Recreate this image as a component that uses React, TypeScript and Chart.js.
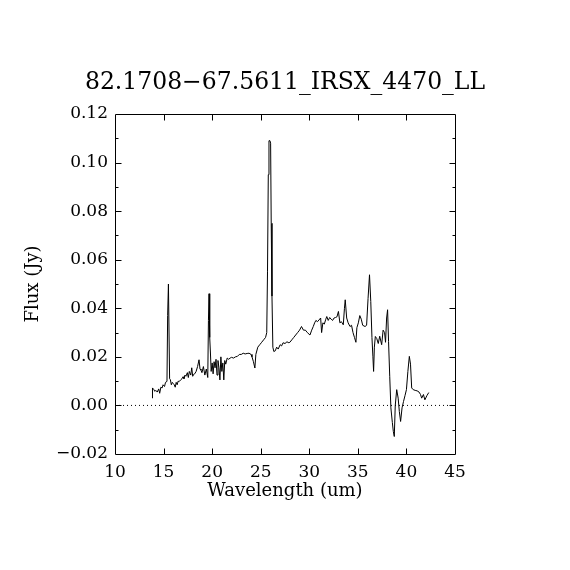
import React, { useEffect, useRef } from "react";
import { Chart, registerables } from "chart.js";

Chart.register(...registerables);

const TITLE = "82.1708\u221267.5611_IRSX_4470_LL";
const X_LABEL = "Wavelength (um)";
const Y_LABEL = "Flux (Jy)";
const X_MIN = 10;
const X_MAX = 45;
const Y_MIN = -0.02;
const Y_MAX = 0.12;
const X_TICKS = [10, 15, 20, 25, 30, 35, 40, 45];
const Y_TICKS = [-0.02, 0, 0.02, 0.04, 0.06, 0.08, 0.1, 0.12];
const Y_MINOR_TICKS = [-0.01, 0.01, 0.03, 0.05, 0.07, 0.09, 0.11];

const WAVELENGTH = [
  13.84, 13.86, 14.0, 14.1, 14.2, 14.35, 14.5, 14.6, 14.72, 14.85, 14.95, 15.1, 15.2, 15.35,
  15.42, 15.5, 15.62, 15.7, 15.8, 15.9, 16.0, 16.1, 16.2, 16.3, 16.4, 16.5, 16.6, 16.75, 16.9,
  17.0, 17.1, 17.2, 17.3, 17.45, 17.55, 17.65, 17.8, 17.9, 18.0, 18.1, 18.2, 18.35, 18.5, 18.65,
  18.75, 18.85, 18.95, 19.1, 19.25, 19.4, 19.55, 19.62, 19.68, 19.75, 19.82, 19.9, 20.0, 20.1,
  20.2, 20.3, 20.4, 20.5, 20.6, 20.7, 20.8, 20.9, 21.0, 21.1, 21.2, 21.3, 21.4, 21.55, 21.7,
  21.85, 22.0, 22.2, 22.4, 22.6, 22.8, 23.0, 23.2, 23.4, 23.6, 23.8, 24.0, 24.1, 24.25, 24.4,
  24.5, 24.7, 24.9, 25.1, 25.3, 25.5, 25.62, 25.7, 25.78, 25.85, 25.95, 26.02, 26.08, 26.16,
  26.25, 26.35, 26.5, 26.64, 26.8, 27.0, 27.15, 27.3, 27.5, 27.7, 27.9, 28.0, 28.2, 28.4, 28.6,
  28.8, 29.0, 29.2, 29.4, 29.6, 29.8, 30.07, 30.25, 30.41, 30.55, 30.68, 30.85, 31.0, 31.17,
  31.27, 31.4, 31.55, 31.7, 31.8, 31.95, 32.1, 32.25, 32.4, 32.55, 32.7, 32.85, 33.0, 33.15,
  33.3, 33.5, 33.62, 33.7, 33.85, 34.0, 34.19, 34.35, 34.5, 34.65, 34.8, 34.9, 35.05, 35.2,
  35.35, 35.5, 35.74, 35.9, 36.05, 36.2, 36.33, 36.45, 36.55, 36.62, 36.7, 36.8, 36.95, 37.1,
  37.25, 37.45, 37.6, 37.75, 37.85, 37.96, 38.06, 38.16, 38.28, 38.4, 38.55, 38.65, 38.75,
  38.85, 39.0, 39.15, 39.27, 39.4, 39.55, 39.7, 39.85, 40.0, 40.15, 40.3, 40.42, 40.54, 40.7,
  40.9, 41.1, 41.3, 41.45, 41.57, 41.75, 41.9, 42.1, 42.3,
];

const FLUX = [
  0.003, 0.0072, 0.0065, 0.0058, 0.0062, 0.0055, 0.0068, 0.005, 0.0075, 0.0072, 0.0085, 0.0078, 0.0095, 0.0099,
  0.037, 0.05, 0.011, 0.0106, 0.0085, 0.0095, 0.009, 0.0085, 0.0075, 0.0095, 0.0085, 0.01, 0.0098, 0.0105, 0.011,
  0.0118, 0.011, 0.0125, 0.012, 0.0135, 0.0115, 0.014, 0.0125, 0.0155, 0.012, 0.0128, 0.013, 0.014, 0.016, 0.0188,
  0.015, 0.0145, 0.0135, 0.016, 0.0125, 0.015, 0.0115, 0.035, 0.046, 0.028, 0.022, 0.014, 0.0175, 0.013,
  0.018, 0.0155, 0.019, 0.0125, 0.0185, 0.0155, 0.0105, 0.02, 0.014, 0.0175, 0.0105, 0.0185, 0.017, 0.0195, 0.019,
  0.0195, 0.0198, 0.0195, 0.02, 0.0202, 0.021, 0.021, 0.0215, 0.0212, 0.0214, 0.0215, 0.021, 0.02, 0.018, 0.0154,
  0.021, 0.024, 0.025, 0.026, 0.027, 0.028, 0.03, 0.055, 0.095, 0.109, 0.109, 0.108, 0.075, 0.045,
  0.024, 0.0222, 0.0225, 0.024, 0.0232, 0.025, 0.0245, 0.0258, 0.0255, 0.0262, 0.0258, 0.026, 0.027, 0.028, 0.029,
  0.03, 0.031, 0.0325, 0.031, 0.031, 0.03, 0.029, 0.031, 0.0325, 0.034, 0.035, 0.0345, 0.0352, 0.036,
  0.03, 0.034, 0.0335, 0.0355, 0.0366, 0.035, 0.0362, 0.0355, 0.035, 0.036, 0.0362, 0.0365, 0.0387, 0.034,
  0.0345, 0.0332, 0.04, 0.0435, 0.036, 0.034, 0.0325, 0.033, 0.03, 0.028, 0.026, 0.032, 0.034, 0.037,
  0.0355, 0.033, 0.0325, 0.033, 0.044, 0.0538, 0.0428, 0.028, 0.02, 0.014, 0.024, 0.0284, 0.0275, 0.0255,
  0.0285, 0.025, 0.031, 0.03, 0.026, 0.036, 0.0394, 0.0263, 0.012, -0.001, -0.007, -0.0107, -0.0128,
  0.0, 0.0065, 0.003, -0.0025, -0.0066, -0.001, 0.0016, 0.004, 0.0065, 0.014, 0.0202, 0.017, 0.0072, 0.0065,
  0.0062, 0.006, 0.0055, 0.0045, 0.003, 0.0045, 0.0023, 0.004, 0.0053,
];

const ZERO_LINE_X = [X_MIN, X_MAX];
const ZERO_LINE_Y = [0, 0];

const FONT_FAMILY = "'DejaVu Serif', 'Liberation Serif', serif";

const framePlugin = {
  id: "frameTicks",
  afterDatasetsDraw(chart: any) {
    const { ctx, chartArea: a, scales } = chart;
    const xs = scales.x;
    const ys = scales.y;
    const L = Math.round(a.left) + 0.5;
    const R = Math.round(a.right) + 0.5;
    const T = Math.round(a.top) + 0.5;
    const B = Math.round(a.bottom) + 0.5;
    ctx.save();
    ctx.strokeStyle = "#000";
    ctx.lineWidth = 1;
    ctx.beginPath();
    ctx.moveTo(L, T);
    ctx.lineTo(R, T);
    ctx.lineTo(R, B);
    ctx.lineTo(L, B);
    ctx.closePath();
    for (const v of X_TICKS) {
      if (v <= X_MIN || v >= X_MAX) continue;
      const px = Math.round(xs.getPixelForValue(v)) + 0.5;
      ctx.moveTo(px, B);
      ctx.lineTo(px, B - 6);
      ctx.moveTo(px, T);
      ctx.lineTo(px, T + 6);
    }
    const yTick = (v: number, len: number) => {
      const py = Math.round(ys.getPixelForValue(v)) + 0.5;
      ctx.moveTo(L, py);
      ctx.lineTo(L + len, py);
      ctx.moveTo(R, py);
      ctx.lineTo(R - len, py);
    };
    for (const v of Y_TICKS) {
      if (v <= Y_MIN || v >= Y_MAX) continue;
      yTick(v, 6);
    }
    for (const v of Y_MINOR_TICKS) yTick(v, 3);
    ctx.stroke();
    ctx.restore();
  },
};

export default function App() {
  const ref = useRef<HTMLCanvasElement | null>(null);

  useEffect(() => {
    if (!ref.current) return;
    const spectrum = WAVELENGTH.map((x, i) => ({ x, y: FLUX[i] }));
    const zero = ZERO_LINE_X.map((x, i) => ({ x, y: ZERO_LINE_Y[i] }));
    const chart = new Chart(ref.current, {
      type: "line",
      data: {
        datasets: [
          {
            data: zero,
            borderColor: "#000",
            borderWidth: 1,
            borderDash: [1, 3],
            pointRadius: 0,
            fill: false,
          },
          {
            data: spectrum,
            borderColor: "#000",
            borderWidth: 1,
            pointRadius: 0,
            tension: 0,
            fill: false,
          },
        ],
      },
      options: {
        animation: false,
        responsive: false,
        devicePixelRatio: 1,
        events: [],
        layout: { padding: 0 },
        plugins: {
          legend: { display: false },
          tooltip: { enabled: false },
          title: {
            display: true,
            text: TITLE,
            color: "#000",
            font: { family: FONT_FAMILY, size: 23.5, weight: "normal", lineHeight: 1.2 },
            padding: { top: 68.5, bottom: 17.3 },
          },
        },
        scales: {
          x: {
            type: "linear",
            position: "bottom",
            min: X_MIN,
            max: X_MAX,
            afterBuildTicks: (s: any) => {
              s.ticks = X_TICKS.map((v) => ({ value: v }));
            },
            afterFit: (s: any) => {
              s.height = 116;
            },
            grid: { display: false, drawTicks: false },
            border: { display: false },
            ticks: {
              color: "#000",
              padding: 8,
              maxRotation: 0,
              autoSkip: false,
              font: { family: FONT_FAMILY, size: 17 },
              callback: (v: any) => String(v),
            },
            title: {
              display: true,
              text: X_LABEL,
              color: "#000",
              font: { family: FONT_FAMILY, size: 18, lineHeight: 1.2 },
              padding: { top: 0, bottom: 67.7 },
            },
          },
          y: {
            type: "linear",
            position: "left",
            min: Y_MIN,
            max: Y_MAX,
            afterBuildTicks: (s: any) => {
              s.ticks = Y_TICKS.map((v) => ({ value: v }));
            },
            afterFit: (s: any) => {
              s.width = 115;
            },
            grid: { display: false, drawTicks: false },
            border: { display: false },
            ticks: {
              color: "#000",
              padding: 7,
              autoSkip: false,
              font: { family: FONT_FAMILY, size: 17 },
              callback: (v: any) => {
                const n = Math.abs(v) < 1e-9 ? 0 : Number(v);
                return n.toFixed(2).replace("-", "\u2212");
              },
            },
            title: {
              display: true,
              text: Y_LABEL,
              color: "#000",
              font: { family: FONT_FAMILY, size: 18, lineHeight: 1.2 },
              padding: { top: 23, bottom: 0 },
            },
          },
          y2: {
            type: "linear",
            position: "right",
            min: Y_MIN,
            max: Y_MAX,
            afterFit: (s: any) => {
              s.width = 115;
            },
            grid: { display: false, drawTicks: false },
            border: { display: false },
            ticks: { display: false },
          },
        },
      },
      plugins: [framePlugin],
    } as any);
    return () => chart.destroy();
  }, []);

  return (
    <div style={{ position: "fixed", left: 0, top: 0, width: 570, height: 570, background: "#fff" }}>
      <canvas ref={ref} width={570} height={570} style={{ width: 570, height: 570 }} />
    </div>
  );
}
